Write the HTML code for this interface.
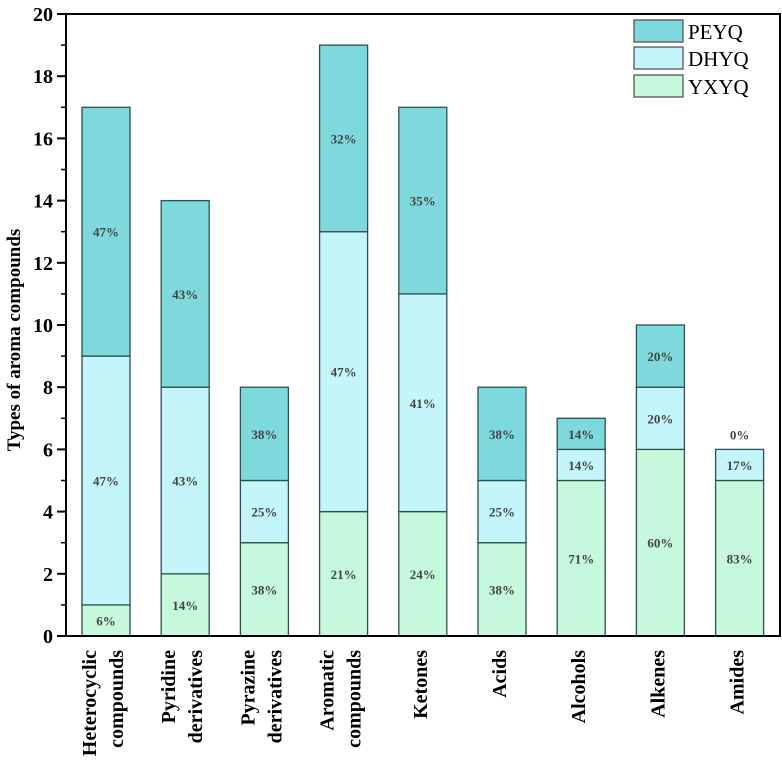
<!DOCTYPE html>
<html><head><meta charset="utf-8"><style>
html,body{margin:0;padding:0;background:#fff}
svg{display:block;font-family:"Liberation Serif",serif}
</style></head><body>
<svg id="chart" width="782" height="765" viewBox="0 0 782 765"></svg>
<script>
const categories=[["Heterocyclic","compounds"],["Pyridine","derivatives"],["Pyrazine","derivatives"],["Aromatic","compounds"],["Ketones"],["Acids"],["Alcohols"],["Alkenes"],["Amides"]];
const yxyq=[1,2,3,4,4,3,5,6,5];
const dhyq=[8,6,2,9,7,2,1,2,1];
const peyq=[8,6,3,6,6,3,1,2,0];
const yxyqPct=["6%","14%","38%","21%","24%","38%","71%","60%","83%"];
const dhyqPct=["47%","43%","25%","47%","41%","25%","14%","20%","17%"];
const peyqPct=["47%","43%","38%","32%","35%","38%","14%","20%","0%"];
const yTicks=[0,2,4,6,8,10,12,14,16,18,20];

const NS="http://www.w3.org/2000/svg";
const svg=document.getElementById('chart');
const L=66,R=780,T=14,B=636,yMax=20;
const y=v=>B-(B-T)*v/yMax;
const step=79.2,x0=82,bw=48;
const xb=i=>x0+i*step;
function mk(tag,attrs,parent){const e=document.createElementNS(NS,tag);for(const k in attrs)e.setAttribute(k,attrs[k]);(parent||svg).appendChild(e);return e;}
const colors={p:"#7ed9dc",d:"#c3f5fb",y:"#c6f8dc"};
const series=[[yxyq,colors.y,yxyqPct,"yxyq"],[dhyq,colors.d,dhyqPct,"dhyq"],[peyq,colors.p,peyqPct,"peyq"]];
categories.forEach((c,i)=>{
  let base=0;
  series.forEach(([vals,col,pct,nm])=>{
    const v=vals[i];
    if(v>0){
      const r=mk('rect',{x:xb(i),y:y(base+v),width:bw,height:y(base)-y(base+v),fill:col,stroke:"#2f4f4f","stroke-width":1.3});
      
      
    }
    const ty=v>0?(y(base)+y(base+v))/2+5:y(base)-10;
    const t=mk('text',{x:xb(i)+bw/2,y:ty,"text-anchor":"middle","font-size":13,"font-weight":"bold",fill:"#444"});
    t.textContent=pct[i];
    
    
    base+=v;
  });
  const cx=xb(i)+bw/2;
  c.forEach((line,j)=>{
    const lx=cx+(c.length===2?(j===0?-10:17):4);
    const t=mk('text',{x:0,y:0,transform:`translate(${lx},650) rotate(-90)`,"text-anchor":"end","font-size":20,"font-weight":"bold",fill:"#000"});
    t.textContent=line;
    
    
  });
});
// axes frame
const f=mk('rect',{x:L,y:T,width:R-L,height:B-T,fill:"none",stroke:"#000","stroke-width":2});

yTicks.forEach(v=>{
  mk('line',{x1:L-9,x2:L,y1:y(v),y2:y(v),stroke:"#000","stroke-width":2});
  if(v<20)mk('line',{x1:L-5,x2:L,y1:y(v+1),y2:y(v+1),stroke:"#000","stroke-width":1.5});
  const t=mk('text',{x:L-13,y:y(v)+7,"text-anchor":"end","font-size":20,"font-weight":"bold"});
  t.textContent=v;
  
  
});
const yt=mk('text',{x:0,y:0,transform:"translate(20,340) rotate(-90)","text-anchor":"middle","font-size":19,"font-weight":"bold"});
yt.textContent="Types of aroma compounds";

// legend
[["PEYQ",colors.p,20],["DHYQ",colors.d,47],["YXYQ",colors.y,75]].forEach(([n,c,ly])=>{
  const g=mk('g',{});
  
  
  mk('rect',{x:634,y:ly,width:49,height:22,fill:c,stroke:"#555","stroke-width":1.3},g);
  const t=mk('text',{x:688,y:ly+19,"font-size":21},g);t.textContent=n;
});
</script>
</body></html>
